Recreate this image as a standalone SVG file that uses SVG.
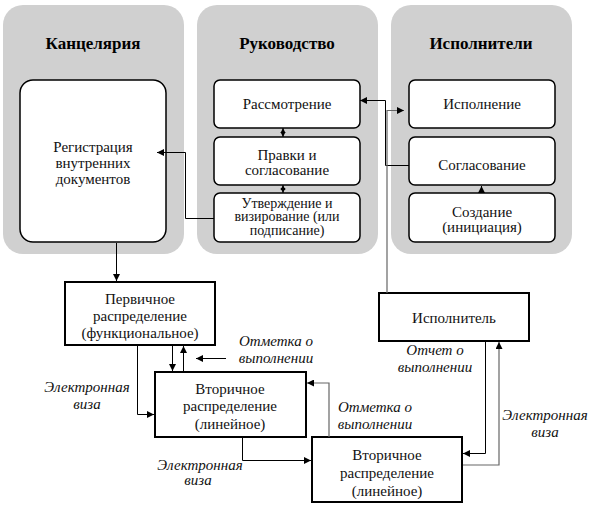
<svg xmlns="http://www.w3.org/2000/svg" width="591" height="510" viewBox="0 0 591 510">
<defs>
<marker id="ah" viewBox="0 0 10 10" refX="10" refY="5" markerWidth="7" markerHeight="7" markerUnits="userSpaceOnUse" orient="auto-start-reverse">
<path d="M0,0 L10,5 L0,10 z" fill="#000"/>
</marker>
<marker id="ah2" viewBox="0 0 10 10" refX="10" refY="5" markerWidth="5" markerHeight="6" markerUnits="userSpaceOnUse" orient="auto-start-reverse">
<path d="M0,0 L10,5 L0,10 z" fill="#000"/>
</marker>
<style>
.col{fill:#d0d0d0;}
.rb{fill:#fff;stroke:#000;stroke-width:1.5;}
.sb{fill:#fff;stroke:#000;stroke-width:2;}
.t{font-family:"Liberation Serif","Times New Roman",serif;font-size:15px;fill:#111;text-anchor:middle;}
.ts{font-family:"Liberation Serif","Times New Roman",serif;font-size:14px;fill:#111;text-anchor:middle;}
.h{font-family:"Liberation Serif","Times New Roman",serif;font-size:17px;font-weight:bold;fill:#000;text-anchor:middle;}
.i{font-family:"Liberation Serif","Times New Roman",serif;font-size:15px;font-style:italic;fill:#111;text-anchor:middle;}
.c{fill:none;stroke:#000;stroke-width:1;}
.g{fill:none;stroke:#666;stroke-width:1.2;}
.a{marker-end:url(#ah);}
.d{marker-start:url(#ah2);marker-end:url(#ah2);}
</style>
</defs>
<rect width="591" height="510" fill="#fff"/>
<g id="col-kanc">
<rect class="col" x="3" y="5" width="181" height="249" rx="20"/>
<text class="h" x="93" y="49">Канцелярия</text>
</g>
<g id="col-ruk">
<rect class="col" x="197" y="5" width="181" height="249" rx="20"/>
<text class="h" x="287" y="49">Руководство</text>
</g>
<g id="col-isp">
<rect class="col" x="391" y="5" width="181" height="249" rx="20"/>
<text class="h" x="481" y="49">Исполнители</text>
</g>

<g id="registration">
<rect class="rb" x="20" y="80" width="146" height="162" rx="13"/>
<text class="t" x="93" y="152">Регистрация</text>
<text class="t" x="93" y="168">внутренних</text>
<text class="t" x="93" y="184">документов</text>
</g>

<g id="rassmotrenie">
<rect class="rb" x="214" y="80" width="146" height="48" rx="6"/>
<text class="t" x="287" y="109">Рассмотрение</text>
</g>
<g id="pravki">
<rect class="rb" x="214" y="137" width="146" height="48" rx="6"/>
<text class="t" x="287" y="160">Правки и</text>
<text class="t" x="287" y="175">согласование</text>
</g>
<g id="utverzhdenie">
<rect class="rb" x="214" y="193" width="146" height="49" rx="6"/>
<text class="ts" x="287" y="207.5">Утверждение и</text>
<text class="ts" x="287" y="221">визирование (или</text>
<text class="ts" x="287" y="234.5">подписание)</text>
</g>

<g id="ispolnenie">
<rect class="rb" x="409" y="80" width="146" height="48" rx="6"/>
<text class="t" x="482" y="109">Исполнение</text>
</g>
<g id="soglasovanie">
<rect class="rb" x="409" y="137" width="146" height="48" rx="6"/>
<text class="t" x="482" y="170">Согласование</text>
</g>
<g id="sozdanie">
<rect class="rb" x="409" y="193" width="146" height="49" rx="6"/>
<text class="t" x="482" y="217">Создание</text>
<text class="t" x="482" y="232">(инициация)</text>
</g>

<g id="pervichnoe">
<rect class="sb" x="65" y="282" width="150" height="63"/>
<text class="t" x="140" y="304">Первичное</text>
<text class="t" x="140" y="321">распределение</text>
<text class="t" x="140" y="338">(функциональное)</text>
</g>
<g id="vtorichnoe1">
<rect class="sb" x="155" y="372" width="151" height="65"/>
<text class="t" x="230" y="394">Вторичное</text>
<text class="t" x="230" y="411">распределение</text>
<text class="t" x="230" y="429">(линейное)</text>
</g>
<g id="vtorichnoe2">
<rect class="sb" x="312" y="437" width="150" height="65"/>
<text class="t" x="387" y="460">Вторичное</text>
<text class="t" x="387" y="478">распределение</text>
<text class="t" x="387" y="496">(линейное)</text>
</g>
<g id="ispolnitel">
<rect class="sb" x="379" y="293" width="150" height="48"/>
<text class="t" x="454" y="323">Исполнитель</text>
</g>

<g id="connectors">
<polyline class="c a" points="214,218.5 185.5,218.5 185.5,152.5 157,152.5"/>
<line class="c d" x1="283" y1="128" x2="283" y2="137"/>
<line class="c d" x1="283" y1="185" x2="283" y2="193"/>
<polyline class="c a" points="409,165.5 385.5,165.5 385.5,100.5 360,100.5"/>
<polyline class="g a" points="387,293 387,110.5 404,110.5"/>
<line class="c a" x1="481.5" y1="193" x2="481.5" y2="186"/>
<line class="c a" x1="116.5" y1="243" x2="116.5" y2="281"/>
<line class="c a" x1="172.5" y1="346" x2="172.5" y2="371"/>
<line class="c a" x1="183.5" y1="372" x2="183.5" y2="346"/>
<line class="c a" x1="226" y1="358.5" x2="196" y2="358.5"/>
<polyline class="c a" points="137.5,346 137.5,414.5 154,414.5"/>
<polyline class="g a" points="329,437 329,383 307,383"/>
<polyline class="c a" points="242.5,438 242.5,460.5 311,460.5"/>
<polyline class="c a" points="485.5,342 485.5,453.5 463,453.5"/>
<polyline class="g a" points="463,465 499,465 499,342"/>
</g>

<g id="labels">
<text class="i" x="276" y="346">Отметка о</text>
<text class="i" x="276" y="363">выполнении</text>
<text class="i" x="87" y="392">Электронная</text>
<text class="i" x="87" y="409">виза</text>
<text class="i" x="375" y="412">Отметка о</text>
<text class="i" x="375" y="429">выполнении</text>
<text class="i" x="200" y="470">Электронная</text>
<text class="i" x="198" y="485">виза</text>
<text class="i" x="435" y="355">Отчет о</text>
<text class="i" x="435" y="372">выполнении</text>
<text class="i" x="545" y="420">Электронная</text>
<text class="i" x="545" y="437">виза</text>
</g>
</svg>
